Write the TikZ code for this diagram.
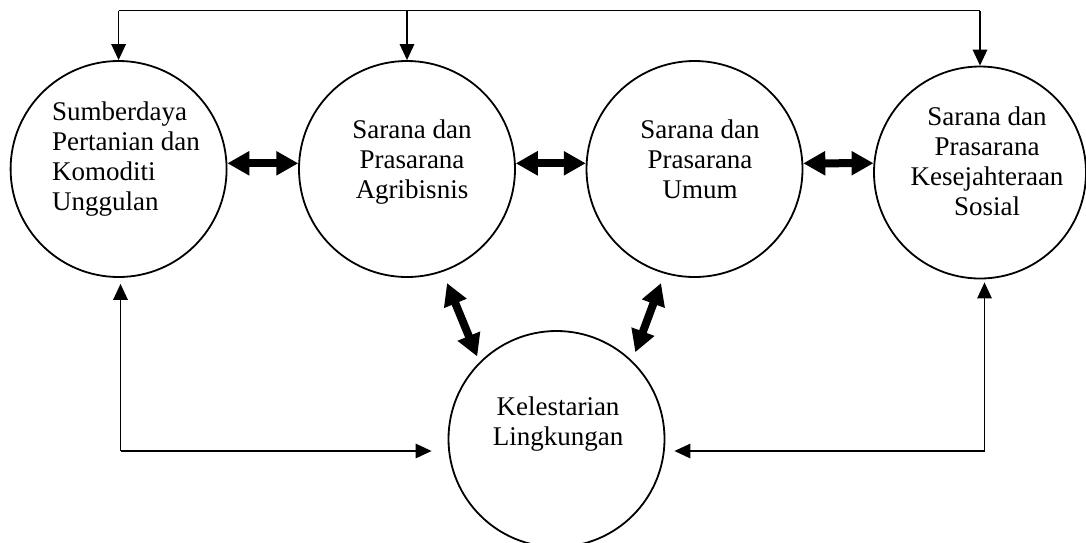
\documentclass[tikz,border=0pt]{standalone}
\usepackage{fontspec}
\setmainfont{Liberation Serif}
\usepackage{tikz}
\usetikzlibrary{arrows.meta}

\begin{document}
\begin{tikzpicture}[x=1pt,y=-1pt,
  bubble/.style={circle,draw,line width=1.8pt,minimum size=216pt,inner sep=0pt},
  txt/.style={align=center,inner sep=0pt,font=\fontsize{27}{30}\selectfont},
  link/.style={line width=1.5pt},
  thin head/.style={-{Triangle[width=14.5pt,length=16pt]}},
  fat link/.style={line width=8pt,{Triangle[width=23pt,length=22pt]}-{Triangle[width=23pt,length=22pt]}}]
  \useasboundingbox (0,0) rectangle (1086,542);
  % circles
  \node[bubble] (sdp) at (118.6,169) {};
  \node[bubble] (spa) at (407,169) {};
  \node[bubble] (spu) at (694.5,169) {};
  \node[bubble,minimum size=212pt] (kss) at (980,172.5) {};
  \node[bubble] (kl) at (556.5,439) {};
  % texts
  \node[txt,align=left,anchor=west] (tsdp) at (52,159.3) {Sumberdaya\\Pertanian dan\\Komoditi\\Unggulan};
  \node[txt] (tspa) at (412,161.8) {Sarana dan\\Prasarana\\Agribisnis};
  \node[txt] (tspu) at (700,158.8) {Sarana dan\\Prasarana\\Umum};
  \node[txt] (tkss) at (987,160.8) {Sarana dan\\Prasarana\\Kesejahteraan\\Sosial};
  \node[txt] (tkl) at (558,424.5) {Kelestarian\\Lingkungan};
  % top line
  \coordinate (top) at (0,10.7);
  \draw[link] (sdp.north |- top) -- (kss.north |- top);
  \draw[link,thin head] (sdp.north |- top) -- (sdp.north);
  \draw[link,thin head] (spa.north |- top) -- (spa.north);
  \draw[link,thin head] (kss.north |- top) -- (kss.north);
  % bottom lines
  \coordinate (cl) at (120.5,451);
  \coordinate (cr) at (984.5,451);
  \draw[link,thin head,shorten >=6pt] (cl) -- (cl |- sdp.south);
  \draw[link,thin head,shorten >=16pt] (cl) -- (cl -| kl.west);
  \draw[link,thin head,shorten >=3pt] (cr) -- (cr |- kss.south);
  \draw[link,thin head,shorten >=9pt] (cr) -- (cr -| kl.east);
  % thick double arrows
  \draw[fat link] (sdp.3) -- (spa.177);
  \draw[fat link] (spa.3) -- (spu.177);
  \draw[fat link] (spu.3) -- (kss.175);
  \draw[fat link,shorten <=12pt,shorten >=6pt] (spa.-71.6) -- (kl.135.5);
  \draw[fat link,shorten <=10pt,shorten >=9pt] (spu.254.1) -- (kl.46.6);
\end{tikzpicture}
\end{document}
